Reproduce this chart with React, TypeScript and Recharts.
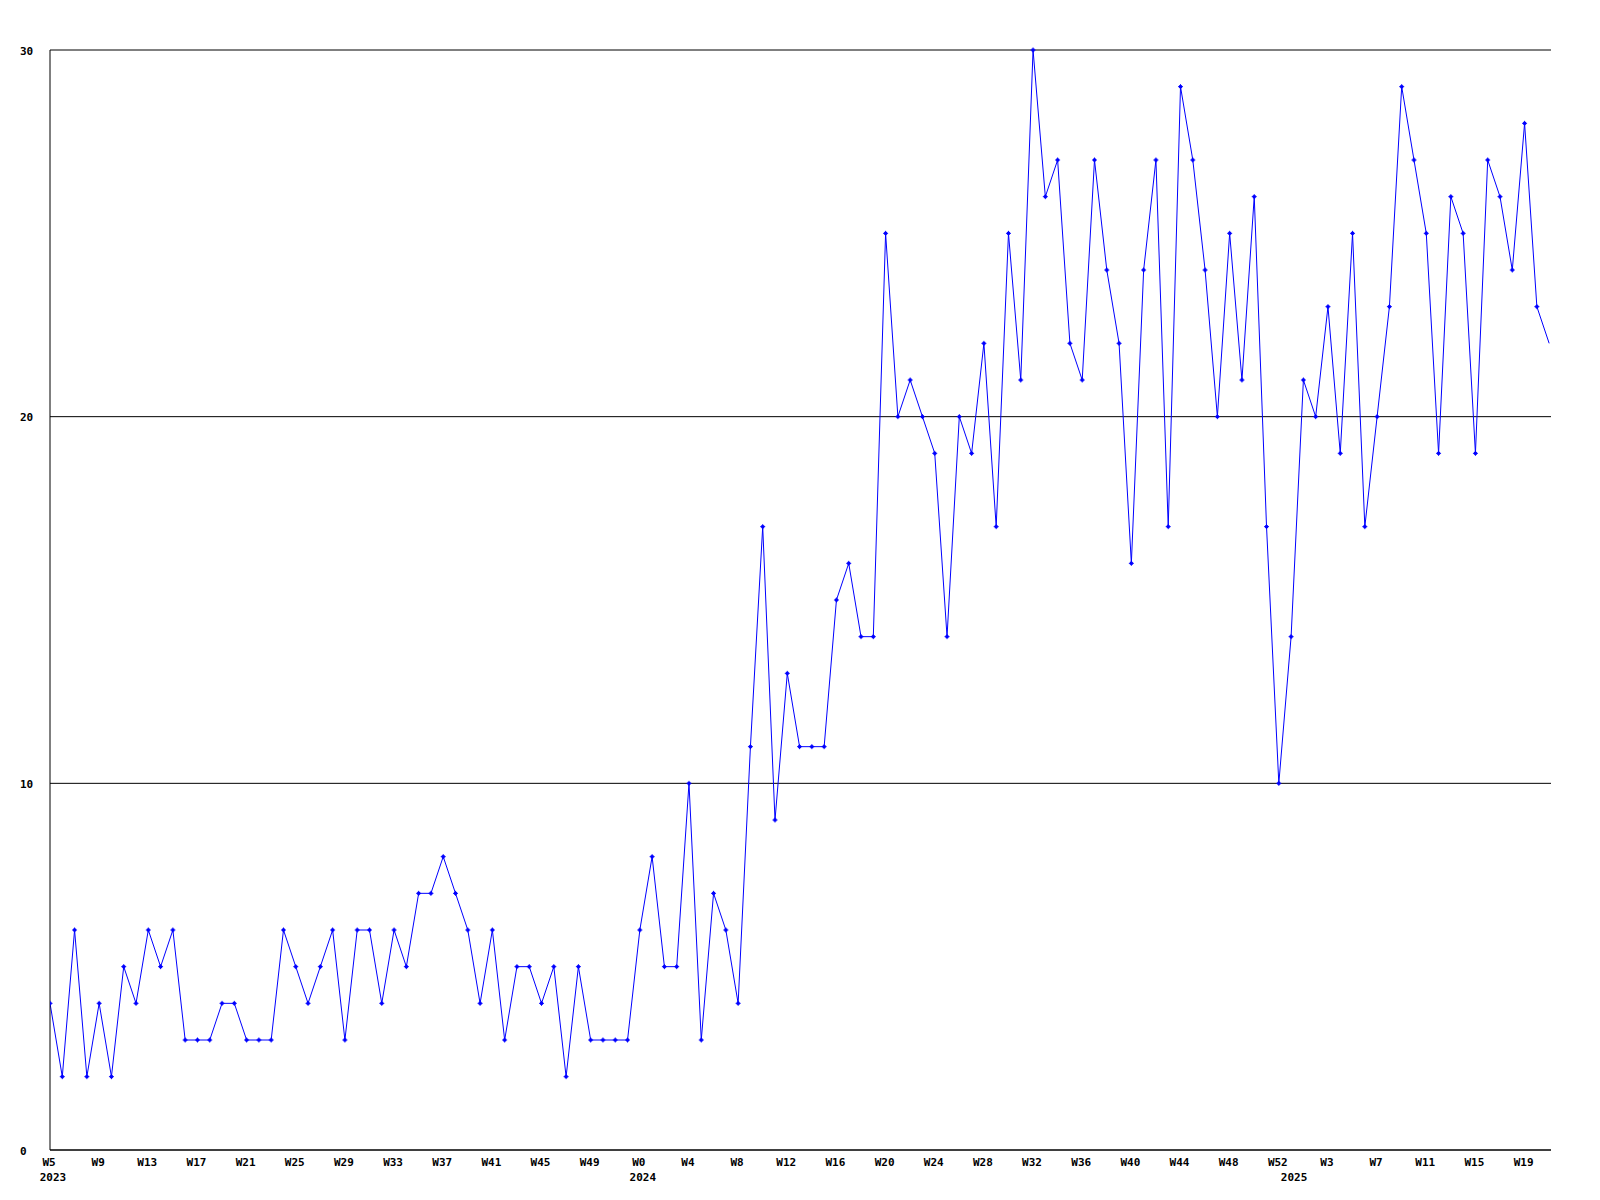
import React from 'react';
import { LineChart, Line, XAxis, YAxis, CartesianGrid } from 'recharts';

// Week numbers of each weekly point, per year
const weeks2023 = [5, 6, 7, 8, 9, 10, 11, 12, 13, 14, 15, 16, 17, 18, 19, 20, 21, 22, 23, 24, 25, 26, 27, 28, 29, 30, 31, 32, 33, 34, 35, 36, 37, 38, 39, 40, 41, 42, 43, 44, 45, 46, 47, 48, 49, 50, 51, 52];
const weeks2024 = [0, 1, 2, 3, 4, 5, 6, 7, 8, 9, 10, 11, 12, 13, 14, 15, 16, 17, 18, 19, 20, 21, 22, 23, 24, 25, 26, 27, 28, 29, 30, 31, 32, 33, 34, 35, 36, 37, 38, 39, 40, 41, 42, 43, 44, 45, 46, 47, 48, 49, 50, 51, 52];
const weeks2025 = [0, 1, 2, 3, 4, 5, 6, 7, 8, 9, 10, 11, 12, 13, 14, 15, 16, 17, 18, 19, 20, 21];

// Series values per year
const values2023 = [4, 2, 6, 2, 4, 2, 5, 4, 6, 5, 6, 3, 3, 3, 4, 4, 3, 3, 3, 6, 5, 4, 5, 6, 3, 6, 6, 4, 6, 5, 7, 7, 8, 7, 6, 4, 6, 3, 5, 5, 4, 5, 2, 5, 3, 3, 3, 3];
const values2024 = [6, 8, 5, 5, 10, 3, 7, 6, 4, 11, 17, 9, 13, 11, 11, 11, 15, 16, 14, 14, 25, 20, 21, 20, 19, 14, 20, 19, 22, 17, 25, 21, 30, 26, 27, 22, 21, 27, 24, 22, 16, 24, 27, 17, 29, 27, 24, 20, 25, 21, 26, 17, 10];
const values2025 = [14, 21, 20, 23, 19, 25, 17, 20, 23, 29, 27, 25, 19, 26, 25, 19, 27, 26, 24, 28, 23, 22];

const yTicks = [0, 10, 20, 30];
const weekTickStep = 4;

type Pt = { i: number; v: number; week: number; year: number; first: boolean };
const data: Pt[] = [];
([
  [2023, weeks2023, values2023],
  [2024, weeks2024, values2024],
  [2025, weeks2025, values2025],
] as [number, number[], number[]][]).forEach(([year, wk, vals]) => {
  wk.forEach((w, k) => {
    data.push({ i: data.length, v: vals[k], week: w, year, first: k === 0 });
  });
});

const xTicks = data.filter((d) => d.i % weekTickStep === 0 || d.first).map((d) => d.i);

const FONT = { fontFamily: '"DejaVu Sans Mono", monospace', fontWeight: 'bold' as const, fontSize: 11, fill: '#000' };

const XTick = (props: any) => {
  const { x, y, payload } = props;
  const p = data[payload.value];
  if (!p) return <g />;
  return (
    <g>
      {p.i % weekTickStep === 0 && (
        <text x={x - 1} y={y + 15.5} textAnchor="middle" {...FONT}>{`W${p.week}`}</text>
      )}
      {p.first && (
        <text x={x + 3} y={y + 30.5} textAnchor="middle" {...FONT}>{p.year}</text>
      )}
    </g>
  );
};

const YTick = (props: any) => {
  const { x, y, payload } = props;
  return (
    <text x={x - 30} y={y + 4.5} textAnchor="start" {...FONT}>{payload.value}</text>
  );
};

const PlusDot = (props: any) => {
  const { cx, cy, index } = props;
  if (index === data.length - 1 || cx == null) return <g key={`d${index}`} />;
  return (
    <g key={`d${index}`}>
      <path d={`M${cx - 2.5},${cy}h5M${cx},${cy - 2.5}v5`} stroke="#0000ff" strokeWidth={1} fill="none" />
      <rect x={cx - 1.5} y={cy - 1.5} width={3} height={3} fill="#0000ff" />
    </g>
  );
};

export default function App() {
  return (
    <div style={{ width: 1592, height: 1184, background: '#fff' }}>
      <LineChart
        width={1592}
        height={1184}
        data={data}
        margin={{ top: 42, right: 49, bottom: 10, left: 12 }}
      >
        <CartesianGrid horizontal vertical={false} stroke="#000" strokeOpacity={1} />
        <XAxis
          dataKey="i"
          type="number"
          domain={[0, 122.15]}
          ticks={xTicks}
          interval={0}
          tick={<XTick />}
          tickLine={false}
          tickSize={0}
          tickMargin={0}
          axisLine={{ stroke: '#000' }}
          height={32}
          allowDataOverflow
        />
        <YAxis
          type="number"
          domain={[0, 30]}
          ticks={yTicks}
          interval={0}
          tick={<YTick />}
          tickLine={false}
          tickSize={0}
          tickMargin={0}
          axisLine={{ stroke: '#000' }}
          width={30}
        />
        <Line
          type="linear"
          dataKey="v"
          stroke="#0000ff"
          strokeWidth={1}
          dot={PlusDot}
          activeDot={false}
          isAnimationActive={false}
        />
      </LineChart>
    </div>
  );
}
